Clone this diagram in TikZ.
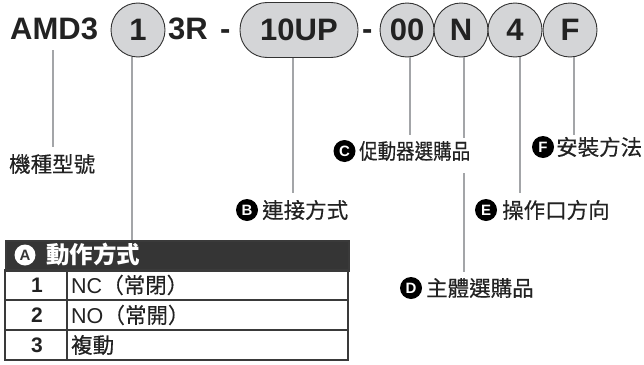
\documentclass[tikz,border=0pt]{standalone}
\usepackage{fontspec}
\setmainfont{Liberation Sans}
\newfontfamily\cjk[FakeBold=0.4]{Noto Sans CJK TC}
\newfontfamily\cjkh{Noto Sans CJK TC}
\definecolor{circfill}{HTML}{D4D5D7}
\definecolor{circbd}{HTML}{333333}
\definecolor{linegray}{HTML}{A3A5A8}
\definecolor{hdrfill}{HTML}{353535}
\definecolor{tblbd}{HTML}{3A3A3A}
\definecolor{txt}{HTML}{222222}
\begin{document}
\begin{tikzpicture}[x=1pt,y=-1pt,
  topfont/.style={font=\fontsize{31}{31}\selectfont\bfseries, text=txt},
  toptxt/.style={topfont, inner sep=0pt, anchor=base west},
  code/.style={circle, draw=circbd, fill=circfill, line width=0.9pt, minimum size=54pt, inner sep=0pt, topfont},
  pill/.style={rectangle, rounded corners=27pt, draw=circbd, fill=circfill, line width=0.9pt, minimum width=118pt, minimum height=55pt, inner sep=0pt, topfont},
  conn/.style={draw=linegray, line width=2.2pt},
  badge/.style={circle, fill=black, text=white, inner sep=0pt, minimum size=22pt, font=\fontsize{15}{15}\selectfont\bfseries},
  lbl/.style={font=\cjk\fontsize{21.5}{21.5}\selectfont, text=txt, inner sep=0pt, anchor=west},
  rowtxt/.style={font=\fontsize{21.5}{21.5}\selectfont, text=txt, inner sep=0pt, anchor=west},
  rownum/.style={font=\fontsize{21}{21}\selectfont\bfseries, text=txt, inner sep=0pt}
]
\useasboundingbox (0,0) rectangle (644,364);

% top code row
\node[toptxt] (amd) at (10,39) {AMD3};
\node[code] (c1) at (138,30) {1};
\node[toptxt] (r3) at (168,39) {3R};
\node[toptxt] (d1) at (220,39) {-};
\node[pill] (cUP) at (299,30) {10UP};
\node[toptxt] (d2) at (362,39) {-};
\node[code] (c00) at (407,30) {00};
\node[code] (cN) at (461,30) {N};
\node[code] (c4) at (515,30) {4};
\node[code] (cF) at (570,30) {F};

% labels
\node[lbl] (lM) at (9,164) {機種型號};

\node[badge] (bB) at (247,210) {B};
\node[lbl] (lB) at (262,210) {連接方式};

\node[badge] (bC) at (344.5,151) {C};
\node[lbl] (lC) at (359,151) {\scalebox{0.86}[1]{促動器選購品}};

\node[badge] (bD) at (411,288) {D};
\node[lbl] (lD) at (426,288) {主體選購品};

\node[badge] (bE) at (486,210) {E};
\node[lbl] (lE) at (502,210) {操作口方向};

\node[badge] (bF) at (543,147) {F};
\node[lbl] (lF) at (556,147) {安裝方法};

% table
\node[fill=hdrfill, draw=tblbd, line width=1.6pt, minimum width=343pt, minimum height=30pt, inner sep=0pt, anchor=north west] (hdr) at (5,240) {};
\node[circle, fill=white, text=hdrfill, inner sep=0pt, minimum size=21pt, font=\fontsize{15}{15}\selectfont\bfseries] (bA) at (25,255) {A};
\node[font=\cjkh\fontsize{23.5}{23.5}\selectfont\bfseries, text=white, inner sep=0pt, anchor=west] (hA) at (46,254) {動作方式};

\draw[draw=tblbd, line width=1.2pt] (5,300) -- (348,300) (5,330) -- (348,330) (67,270) -- (67,360);
\draw[draw=tblbd, line width=1.6pt] (5,270) rectangle (348,360);

\node[rownum] (n1) at (37,285) {1};
\node[rownum] (n2) at (37,315) {2};
\node[rownum] (n3) at (37,345) {3};
\node[rowtxt] (t1) at (71,285) {NC\cjk（常閉）};
\node[rowtxt] (t2) at (71,315) {NO\cjk（常開）};
\node[rowtxt] (t3) at (71,345) {\cjk 複動};

% connector end points
\coordinate (eM0) at (53,50);
\coordinate (eM) at (53,147);
\coordinate (eB) at (293,193);
\coordinate (eC) at (410,135);
\coordinate (eN1) at (464,138);
\coordinate (eN2) at (464,173);
\coordinate (eD) at (464,272);
\coordinate (eE) at (520,193);
\coordinate (eF) at (574,135);

% connectors
\draw[conn] (eM0) -- (eM);
\draw[conn] ([xshift=-6pt]c1.south) -- ([xshift=-6pt]c1.south |- hdr.north);
\draw[conn] (cUP.south -| eB) -- (eB);
\draw[conn] (c00.south -| eC) -- (eC);
\draw[conn] (cN.south -| eN1) -- (eN1);
\draw[conn] (eN2) -- (eD);
\draw[conn] (c4.south -| eE) -- (eE);
\draw[conn] (cF.south -| eF) -- (eF);
\end{tikzpicture}
\end{document}
